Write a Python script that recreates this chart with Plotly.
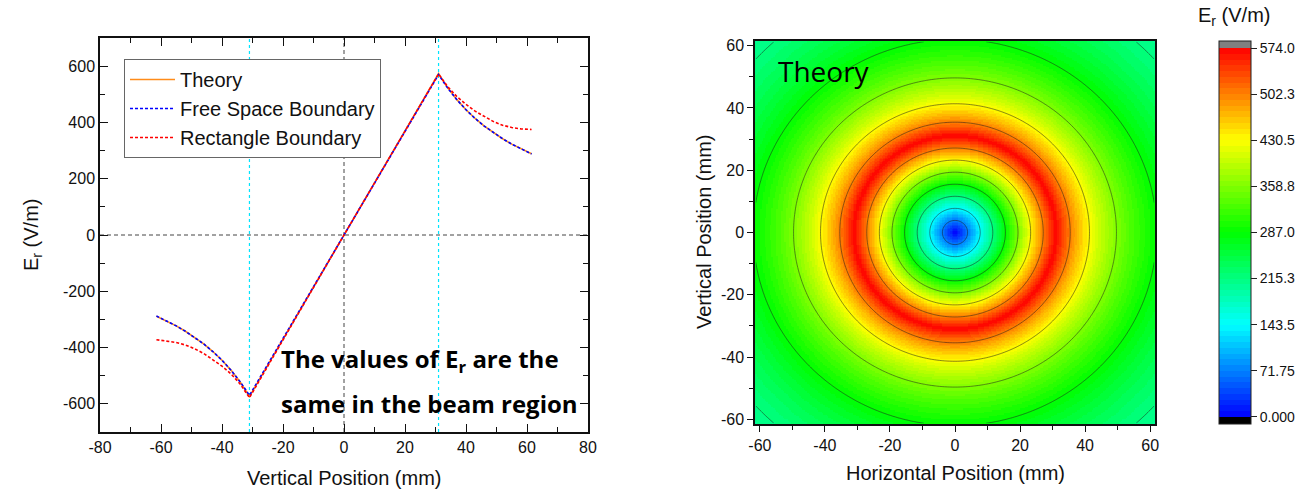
import numpy as np
import plotly.graph_objects as go

W, H = 1297, 492

# ---------------- data ----------------
pos_mm = [-61.5, -58, -55, -52, -49, -46, -43, -40, -37, -34, -31, 0,
          31, 34, 37, 40, 43, 46, 49, 52, 55, 58, 61.5]
theory = [-289, -307, -323, -342, -363, -387, -414, -445, -481, -523, -574, 0,
          574, 523, 481, 445, 414, 387, 363, 342, 323, 307, 289]
free_space = [-288, -306, -323, -342, -363, -387, -414, -445, -481, -522, -570, 0,
              570, 522, 481, 445, 414, 387, 363, 342, 323, 306, 288]
rectangle = [-372, -376, -382, -391, -404, -421, -442, -466, -494, -530, -578, 0,
             572, 527, 492, 464, 440, 420, 403, 390, 382, 377, 375]

beam_edges = [-31, 31]          # cyan reference lines
zero_lines = [0]                # dashed zero reference lines

# radial profile of E_r (theory) used for the 2D map
radius_mm = [0, 31, 33, 35, 38, 41, 44, 47, 50, 54, 58, 62, 67, 72, 78, 84, 88]
radial_E = [0, 574, 539, 508, 468, 434, 404, 379, 356, 330, 307, 287, 266, 247, 228, 212, 202]

cbar_ticks = [0, 71.75, 143.5, 215.3, 287.0, 358.8, 430.5, 502.3, 574.0]
cbar_text = ["0.000", "71.75", "143.5", "215.3", "287.0", "358.8", "430.5", "502.3", "574.0"]

left_xticks = [-80, -60, -40, -20, 0, 20, 40, 60, 80]
left_yticks = [-600, -400, -200, 0, 200, 400, 600]
right_ticks = [-60, -40, -20, 0, 20, 40, 60]

# ---------------- helpers ----------------
def px_x(p):
    return p / W

def px_y(p):
    return 1 - p / H

def hy(v):
    return str(v).replace("\u2212", "-")

# grid for the map
grid = np.arange(-61.25, 61.26, 0.5)
GX, GY = np.meshgrid(grid, grid)
R = np.sqrt(GX ** 2 + GY ** 2)
Z = np.interp(R, radius_mm, radial_E)

# stepped rainbow colour scale with grey (over) / black (under) ends
ZMAX_DATA = 574.0
ext = 10.9
zmin, zmax = -ext, ZMAX_DATA + ext

def frac(v):
    return (v - zmin) / (zmax - zmin)

def rainbow(t):
    stops = [(0, (0, 0, 255)), (0.25, (0, 255, 255)), (0.5, (0, 255, 0)),
             (0.75, (255, 255, 0)), (1.0, (255, 0, 0))]
    for (t0, c0), (t1, c1) in zip(stops[:-1], stops[1:]):
        if t <= t1:
            f = (t - t0) / (t1 - t0)
            c = [round(a + (b - a) * f) for a, b in zip(c0, c1)]
            return "rgb(%d,%d,%d)" % tuple(c)
    return "rgb(255,0,0)"

nb = 64
cs = [[0.0, "rgb(0,0,0)"], [frac(0), "rgb(0,0,0)"]]
for i in range(nb):
    v0 = i * ZMAX_DATA / nb
    v1 = (i + 1) * ZMAX_DATA / nb
    c = rainbow((i + 0.5) / nb)
    cs.append([frac(v0), c])
    cs.append([frac(v1), c])
cs.append([frac(ZMAX_DATA), "rgb(128,128,128)"])
cs.append([1.0, "rgb(128,128,128)"])

FONT = "Liberation Sans, Arial, sans-serif"

fig = go.Figure()

# ---------------- left chart ----------------
fig.add_trace(go.Scatter(x=pos_mm, y=theory, mode="lines", name="Theory",
                         line=dict(color="#FF8C1A", width=1.6),
                         xaxis="x", yaxis="y"))
fig.add_trace(go.Scatter(x=pos_mm, y=free_space, mode="lines", name="Free Space Boundary",
                         line=dict(color="#0000FF", width=1.6, dash="3px,2px"),
                         xaxis="x", yaxis="y"))
fig.add_trace(go.Scatter(x=pos_mm, y=rectangle, mode="lines", name="Rectangle Boundary",
                         line=dict(color="#FF0000", width=1.6, dash="3px,2px"),
                         xaxis="x", yaxis="y"))

shapes = []
for xv in beam_edges:
    shapes.append(dict(type="line", xref="x", yref="y domain", x0=xv, x1=xv, y0=0, y1=1,
                       line=dict(color="#00E5FF", width=1.2, dash="dot"), layer="below"))
for v in zero_lines:
    shapes.append(dict(type="line", xref="x", yref="y domain", x0=v, x1=v, y0=0, y1=1,
                       line=dict(color="#444444", width=1, dash="4px,3px"), layer="below"))
    shapes.append(dict(type="line", xref="x domain", yref="y", x0=0, x1=1, y0=v, y1=v,
                       line=dict(color="#444444", width=1, dash="4px,3px"), layer="below"))

# ---------------- right chart ----------------
fig.add_trace(go.Heatmap(x=grid, y=grid, z=Z, colorscale=cs, zmin=zmin, zmax=zmax,
                         zsmooth=False, xaxis="x2", yaxis="y2", hoverinfo="skip",
                         showscale=True,
                         colorbar=dict(
                             x=px_x(1219), xanchor="left", xpad=0,
                             y=px_y(232.5), yanchor="middle", ypad=0,
                             len=383, lenmode="pixels", thickness=32, thicknessmode="pixels",
                             outlinecolor="#222222", outlinewidth=1,
                             tickmode="array", tickvals=cbar_ticks, ticktext=cbar_text,
                             ticks="outside", ticklen=6, tickcolor="#222222", tickwidth=1,
                             tickfont=dict(family=FONT, size=14, color="#111111"),
                         )))
fig.add_trace(go.Contour(x=grid, y=grid, z=Z, xaxis="x2", yaxis="y2", showscale=False,
                         contours=dict(start=cbar_ticks[1], end=cbar_ticks[7] + 0.1,
                                       size=cbar_ticks[1], coloring="none"),
                         line=dict(color="rgba(30,30,30,0.75)", width=0.7),
                         hoverinfo="skip", showlegend=False))

annotations = [
    dict(text="E<sub>r</sub> (V/m)", x=px_x(32), y=px_y(235), textangle=-90,
         font=dict(family=FONT, size=20, color="#111111")),
    dict(text="Vertical Position (mm)", x=px_x(344), y=px_y(478),
         font=dict(family=FONT, size=20, color="#111111")),
    dict(text="Horizontal Position (mm)", x=px_x(955), y=px_y(473),
         font=dict(family=FONT, size=20, color="#111111")),
    dict(text="Vertical Position (mm)", x=px_x(704), y=px_y(232), textangle=-90,
         font=dict(family=FONT, size=20, color="#111111")),
    dict(text="E<sub>r</sub> (V/m)", x=px_x(1234), y=px_y(17),
         font=dict(family=FONT, size=20, color="#111111")),
    dict(text="Theory", x=px_x(776), y=px_y(71), xanchor="left",
         font=dict(family="Open Sans", size=28, color="#000000")),
    dict(text="<b>The values of E<sub>r</sub> are the</b>", x=px_x(279), y=px_y(360),
         xanchor="left", font=dict(family="Open Sans", size=24, color="#000000")),
    dict(text="<b>same in the beam region</b>", x=px_x(279), y=px_y(403),
         xanchor="left", font=dict(family="Open Sans", size=24, color="#000000")),
]
for a in annotations:
    a.update(xref="paper", yref="paper", showarrow=False)
    a.setdefault("xanchor", "center")
    a.setdefault("yanchor", "middle")

axis_common = dict(showgrid=False, zeroline=False, showline=True, linecolor="#111111",
                   tickcolor="#111111", tickfont=dict(family=FONT, size=16, color="#111111"))

fig.update_layout(
    width=W, height=H, margin=dict(l=0, r=0, t=0, b=0),
    template="none", paper_bgcolor="white", plot_bgcolor="white",
    font=dict(family=FONT, color="#111111"),
    showlegend=True,
    legend=dict(x=px_x(124), y=px_y(59), xanchor="left", yanchor="top",
                bgcolor="white", bordercolor="#666666", borderwidth=1,
                font=dict(family=FONT, size=20, color="#111111"),
                tracegroupgap=0, itemwidth=45),
    xaxis=dict(domain=[px_x(100), px_x(588)], range=[-80, 80], anchor="y",
               tickmode="array", tickvals=left_xticks, ticktext=[hy(v) for v in left_xticks],
               ticks="inside", ticklen=8, tickwidth=1.2, mirror="allticks", linewidth=1.5,
               minor=dict(tickmode="linear", tick0=0, dtick=10, ticks="inside", ticklen=5,
                          tickcolor="#111111"),
               **axis_common),
    yaxis=dict(domain=[px_y(432), px_y(38)], range=[-700, 700], anchor="x",
               tickmode="array", tickvals=left_yticks, ticktext=[hy(v) for v in left_yticks],
               ticks="inside", ticklen=8, tickwidth=1.2, mirror="allticks", linewidth=1.5,
               minor=dict(tickmode="linear", tick0=0, dtick=100, ticks="inside", ticklen=5,
                          tickcolor="#111111"),
               **axis_common),
    xaxis2=dict(domain=[px_x(755), px_x(1155)], range=[-61.5, 61.5], anchor="y2",
                tickmode="array", tickvals=right_ticks, ticktext=[hy(v) for v in right_ticks],
                ticks="outside", ticklen=6, tickwidth=1.2, mirror=True, linewidth=1.5,
                minor=dict(tickmode="linear", tick0=0, dtick=10, ticks="outside", ticklen=4,
                           tickcolor="#111111"),
                **axis_common),
    yaxis2=dict(domain=[px_y(424), px_y(41)], range=[-61.5, 61.5], anchor="x2",
                tickmode="array", tickvals=right_ticks, ticktext=[hy(v) for v in right_ticks],
                ticks="outside", ticklen=6, tickwidth=1.2, mirror=True, linewidth=1.5,
                minor=dict(tickmode="linear", tick0=0, dtick=10, ticks="outside", ticklen=4,
                           tickcolor="#111111"),
                **axis_common),
    shapes=shapes,
    annotations=annotations,
)

fig.write_html("out.html")
